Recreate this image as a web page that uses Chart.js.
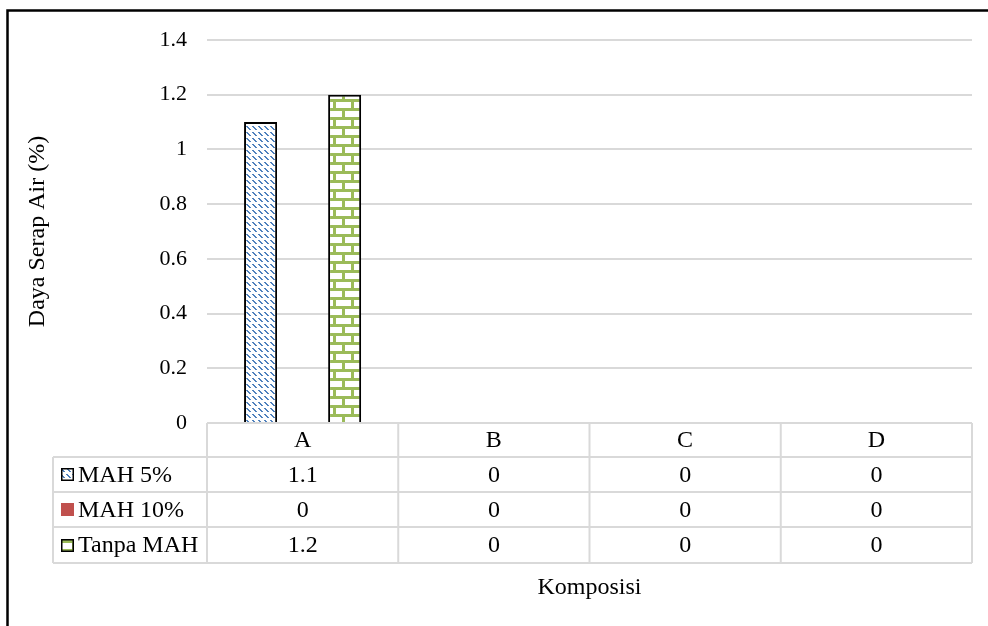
<!DOCTYPE html>
<html>
<head>
<meta charset="utf-8">
<script src="https://cdn.jsdelivr.net/npm/chart.js@4/dist/chart.umd.min.js"></script>
<style>
  html, body { margin: 0; padding: 0; background: #fff; }
  #wrap { width: 988px; height: 626px; position: relative; }
</style>
</head>
<body>
<div id="wrap"><canvas id="c" width="988" height="626"></canvas></div>
<script>
// Composition categories and water absorption (%) per series
const categories = ['A', 'B', 'C', 'D'];
const seriesNames = ['MAH 5%', 'MAH 10%', 'Tanpa MAH'];
const mah5 = [1.1, 0, 0, 0];
const mah10 = [0, 0, 0, 0];
const tanpaMah = [1.2, 0, 0, 0];
const yTickValues = [0, 0.2, 0.4, 0.6, 0.8, 1, 1.2, 1.4];
const yTitle = 'Daya Serap Air (%)';
const xTitle = 'Komposisi';

const FONT = '"Liberation Serif", "Times New Roman", serif';
const TICK_SIZE = 22;
const TEXT_SIZE = 24;
const BLUE = '#4f81bd', RED = '#c0504d', GREEN = '#9bbb59';
const GRID = '#d9d9d9';

const canvas = document.getElementById('c');
const mainCtx = canvas.getContext('2d');

// Dashed downward-diagonal fill
function diagonalPattern(color) {
  const n = 12;
  const t = document.createElement('canvas');
  t.width = t.height = n;
  const g = t.getContext('2d');
  g.fillStyle = '#fff'; g.fillRect(0, 0, n, n);
  g.fillStyle = color;
  for (let y = 0; y < n; y++)
    for (let x = 0; x < n; x++) {
      const d = (x - y + n) % 6;
      if ((d === 0 || d === 1) && (y % 6) < 4) g.fillRect(x, y, 1, 1);
    }
  return mainCtx.createPattern(t, 'repeat');
}

// Brick fill
function brickPattern(color) {
  const t = document.createElement('canvas');
  t.width = t.height = 18;
  const g = t.getContext('2d');
  g.fillStyle = '#fff'; g.fillRect(0, 0, 18, 18);
  g.fillStyle = color;
  g.fillRect(0, 0, 18, 3);
  g.fillRect(0, 9, 18, 3);
  g.fillRect(0, 3, 3, 6);
  g.fillRect(9, 12, 3, 6);
  return mainCtx.createPattern(t, 'repeat');
}

const fills = [diagonalPattern(BLUE), RED, brickPattern(GREEN)];
const seriesData = [mah5, mah10, tanpaMah];

// Frame, data table, and x-axis title
const tablePlugin = {
  id: 'tablePlugin',
  beforeDraw(chart) {
    const ctx = chart.ctx;
    ctx.save();
    ctx.fillStyle = '#fff';
    ctx.fillRect(0, 0, chart.width, chart.height);
    ctx.strokeStyle = '#000';
    ctx.lineWidth = 2.5;
    ctx.beginPath();
    ctx.moveTo(7.5, chart.height);
    ctx.lineTo(7.5, 10.5);
    ctx.lineTo(chart.width, 10.5);
    ctx.stroke();
    ctx.restore();
  },
  afterDraw(chart) {
    const ctx = chart.ctx;
    const ca = chart.chartArea;
    const x = chart.scales.x;
    const step = x.width / categories.length;
    const legendLeft = 53;
    const colEdges = [legendLeft, ca.left].concat(categories.map((_, i) => x.getPixelForValue(i) + step / 2));
    const rowEdges = [ca.bottom, ca.bottom + 34, ca.bottom + 69, ca.bottom + 104, ca.bottom + 140];

    ctx.save();
    ctx.strokeStyle = GRID;
    ctx.lineWidth = 2;
    ctx.beginPath();
    ctx.moveTo(ca.left, rowEdges[0]); ctx.lineTo(ca.right, rowEdges[0]);
    for (let r = 1; r < rowEdges.length; r++) {
      ctx.moveTo(legendLeft, rowEdges[r]); ctx.lineTo(ca.right, rowEdges[r]);
    }
    ctx.moveTo(legendLeft, rowEdges[1]); ctx.lineTo(legendLeft, rowEdges[4]);
    for (let c = 1; c < colEdges.length; c++) {
      ctx.moveTo(colEdges[c], rowEdges[0]); ctx.lineTo(colEdges[c], rowEdges[4]);
    }
    ctx.stroke();

    ctx.fillStyle = '#000';
    ctx.font = TEXT_SIZE + 'px ' + FONT;
    ctx.textBaseline = 'middle';
    ctx.textAlign = 'center';
    categories.forEach((cat, i) => {
      ctx.fillText(cat, x.getPixelForValue(i), (rowEdges[0] + rowEdges[1]) / 2 + 1);
    });
    seriesData.forEach((vals, s) => {
      const cy = (rowEdges[s + 1] + rowEdges[s + 2]) / 2 + 1;
      vals.forEach((v, i) => {
        ctx.fillText(String(v), x.getPixelForValue(i), cy);
      });
    });

    // legend keys and names
    seriesNames.forEach((name, s) => {
      const cy = (rowEdges[s + 1] + rowEdges[s + 2]) / 2;
      const kx = 61, ks = 13, ky = Math.round(cy - ks / 2);
      ctx.fillStyle = fills[s];
      ctx.fillRect(kx, ky, ks, ks);
      if (s !== 1) {
        ctx.strokeStyle = '#000';
        ctx.lineWidth = 1.5;
        ctx.strokeRect(kx + 0.75, ky + 0.75, ks - 1.5, ks - 1.5);
      }
      ctx.fillStyle = '#000';
      ctx.textAlign = 'left';
      ctx.fillText(name, 78, cy + 1);
    });

    ctx.textAlign = 'center';
    ctx.fillText(xTitle, (ca.left + ca.right) / 2, 588);
    ctx.restore();
  }
};

new Chart(canvas, {
  type: 'bar',
  data: {
    labels: categories,
    datasets: seriesNames.map((name, s) => ({
      label: name,
      data: seriesData[s],
      backgroundColor: fills[s],
      borderColor: '#000',
      borderWidth: s === 1 ? 0 : 2,
      categoryPercentage: 0.659,
      barPercentage: 0.786
    }))
  },
  options: {
    responsive: false,
    animation: false,
    devicePixelRatio: 1,
    layout: { padding: { left: 0, right: 16, top: 40, bottom: 203 } },
    plugins: { legend: { display: false }, tooltip: { enabled: false } },
    scales: {
      x: { display: false },
      y: {
        min: 0,
        max: 1.4,
        afterBuildTicks(scale) { scale.ticks = yTickValues.map(v => ({ value: v })); },
        afterFit(scale) { scale.width = 207; },
        ticks: {
          padding: 20,
          color: '#000',
          font: { family: FONT, size: TICK_SIZE },
          callback: v => String(+v.toFixed(1))
        },
        grid: { color: GRID, lineWidth: 2, drawTicks: false },
        border: { display: false },
        title: {
          display: true,
          text: yTitle,
          color: '#000',
          font: { family: FONT, size: TEXT_SIZE },
          padding: { top: 23, bottom: 0 }
        }
      }
    }
  },
  plugins: [tablePlugin]
});
</script>
</body>
</html>
